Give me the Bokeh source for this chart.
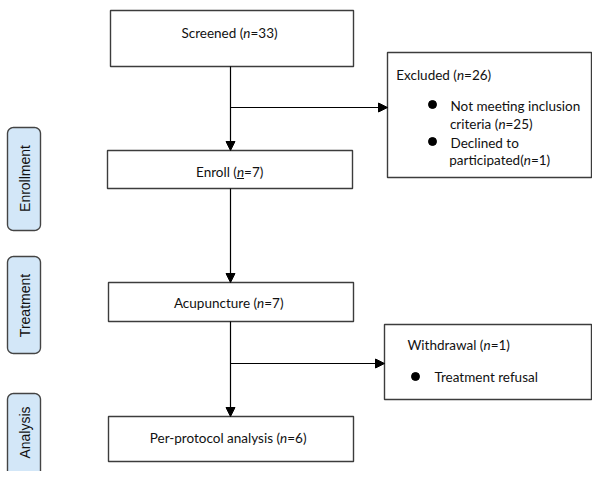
import math
from bokeh.plotting import figure
from bokeh.models import Range1d, Arrow, NormalHead
from bokeh.core.properties import value
from bokeh.embed import file_html
from bokeh.resources import INLINE

# ---------------- data ----------------
phases = ["Enrollment", "Treatment", "Analysis"]
stages = ["Screened", "Enroll", "Acupuncture", "Per-protocol analysis"]
stage_n = [33, 7, 7, 6]
excluded_label = "Excluded"
excluded_n = 26
excluded_reasons = ["Not meeting inclusion criteria", "Declined to participated"]
excluded_reason_n = [25, 1]
withdrawal_label = "Withdrawal"
withdrawal_n = 1
withdrawal_reasons = ["Treatment refusal"]

# ---------------- layout (pixel coordinates) ----------------
stage_boxes = [(110, 10, 353, 66), (107, 150, 352, 188), (108, 282, 353, 321), (108, 416, 353, 461)]
stage_text_y = [32, 171, 302, 437]
stage_text_cx = 229
phase_boxes = [(7, 127, 40, 230), (7, 256, 40, 353), (7, 393, 40, 520)]
phase_text_y = [178, 305, 432]
excl_box = (387, 52, 591, 177)
wd_box = (384, 324, 591, 399)
flow_x = 230

FONT = "Lato"
FS = 13.5
CW = {' ': .226, '(': .303, ')': .303, '=': .498, '-': .306,
      'S': .459, 'E': .488, 'A': .579, 'P': .517, 'N': .646, 'D': .615, 'W': .890, 'T': .487,
      'a': .479, 'b': .525, 'c': .423, 'd': .525, 'e': .498, 'f': .305, 'g': .471, 'h': .525,
      'i': .229, 'l': .229, 'm': .799, 'n': .525, 'o': .527, 'p': .525, 'r': .349, 's': .391,
      't': .335, 'u': .525, 'w': .715, 'x': .433, 'y': .453}
for d in "0123456789":
    CW[d] = .507
LFS = 14.0  # layout size for width estimate


def tw(s):
    return sum(CW.get(c, .5) for c in s) * LFS


N_W = 0.53 * FS

p = figure(width=592, height=471, x_range=Range1d(0, 592), y_range=Range1d(471, 0),
           output_backend="svg", toolbar_location=None, min_border=0)
p.axis.visible = False
p.grid.visible = False
p.outline_line_color = None
p.background_fill_color = "white"
p.border_fill_color = "white"

TXT = dict(text_font=value(FONT), text_font_size=f"{FS}px", text_color="#111111",
           text_baseline="middle")


def comp(prefix, suffix, y, cx=None, x0=None, underline=False):
    total = tw(prefix) + N_W + tw(suffix)
    if x0 is None:
        x0 = cx - total / 2
    a = x0 + tw(prefix)
    p.text(x=[a], y=[y], text=[prefix], text_align="right", **TXT)
    p.text(x=[a], y=[y], text=["n"], text_align="left", text_font_style="italic", **TXT)
    p.text(x=[a + N_W], y=[y], text=[suffix], text_align="left", **TXT)
    if underline:
        p.segment(x0=[a], y0=[y + 7], x1=[a + N_W], y1=[y + 7], line_color="#111111", line_width=1)


def rrect(l, t, r, b, rad=5, n=8):
    xs, ys = [], []
    for (cx, cy, a0) in [(l + rad, t + rad, math.pi), (r - rad, t + rad, 1.5 * math.pi),
                          (r - rad, b - rad, 0.0), (l + rad, b - rad, 0.5 * math.pi)]:
        for k in range(n + 1):
            ang = a0 + 0.5 * math.pi * k / n
            xs.append(cx + rad * math.cos(ang))
            ys.append(cy + rad * math.sin(ang))
    return xs, ys


# phase side labels
pxs, pys = [], []
for (l, t, r, b) in phase_boxes:
    xs, ys = rrect(l, t, r, b, 6)
    pxs.append(xs)
    pys.append(ys)
p.patches(pxs, pys, fill_color="#d3e7f8", line_color="#444444", line_width=1.4)
p.text(x=[24] * len(phases), y=phase_text_y, text=phases, angle=math.pi / 2,
       text_align="center", text_baseline="middle", text_font=value("Liberation Sans"),
       text_font_size="14px", text_color="#111111")

# boxes
all_boxes = stage_boxes + [excl_box, wd_box]
p.quad(left=[b[0] for b in all_boxes], right=[b[2] for b in all_boxes],
       top=[b[1] for b in all_boxes], bottom=[b[3] for b in all_boxes],
       fill_color="white", line_color="#3c3c3c", line_width=1.4)

# arrows
head = dict(size=9, fill_color="black", line_color="black")
segs = [(flow_x, stage_boxes[0][3], flow_x, stage_boxes[1][1]),
        (flow_x, stage_boxes[1][3], flow_x, stage_boxes[2][1]),
        (flow_x, stage_boxes[2][3], flow_x, stage_boxes[3][1]),
        (flow_x, 107, excl_box[0], 107),
        (flow_x, 363, wd_box[0], 363)]
for (xs_, ys_, xe, ye) in segs:
    p.add_layout(Arrow(end=NormalHead(**head), x_start=xs_, y_start=ys_, x_end=xe, y_end=ye,
                       line_color="black", line_width=1.2))

# stage texts
for i, (name, n) in enumerate(zip(stages, stage_n)):
    comp(f"{name} (", f"={n})", stage_text_y[i], cx=stage_text_cx, underline=(name == "Enroll"))

# excluded
comp(f"{excluded_label} (", f"={excluded_n})", 74, x0=398)
p.text(x=[450], y=[105], text=["Not meeting inclusion"], text_align="left", **TXT)
comp("criteria (", f"={excluded_reason_n[0]})", 123, x0=450)
p.text(x=[450], y=[142], text=["Declined to"], text_align="left", **TXT)
comp("participated(", f"={excluded_reason_n[1]})", 159, x0=450)
p.scatter(x=[432, 432], y=[104, 141], size=8, marker="circle", fill_color="black", line_color="black")

# withdrawal
comp(f"{withdrawal_label} (", f"={withdrawal_n})", 344, x0=409)
p.text(x=[434], y=[376], text=withdrawal_reasons, text_align="left", **TXT)
p.scatter(x=[415], y=[376], size=8, marker="circle", fill_color="black", line_color="black")

open("out.html", "w").write(file_html(p, INLINE))
